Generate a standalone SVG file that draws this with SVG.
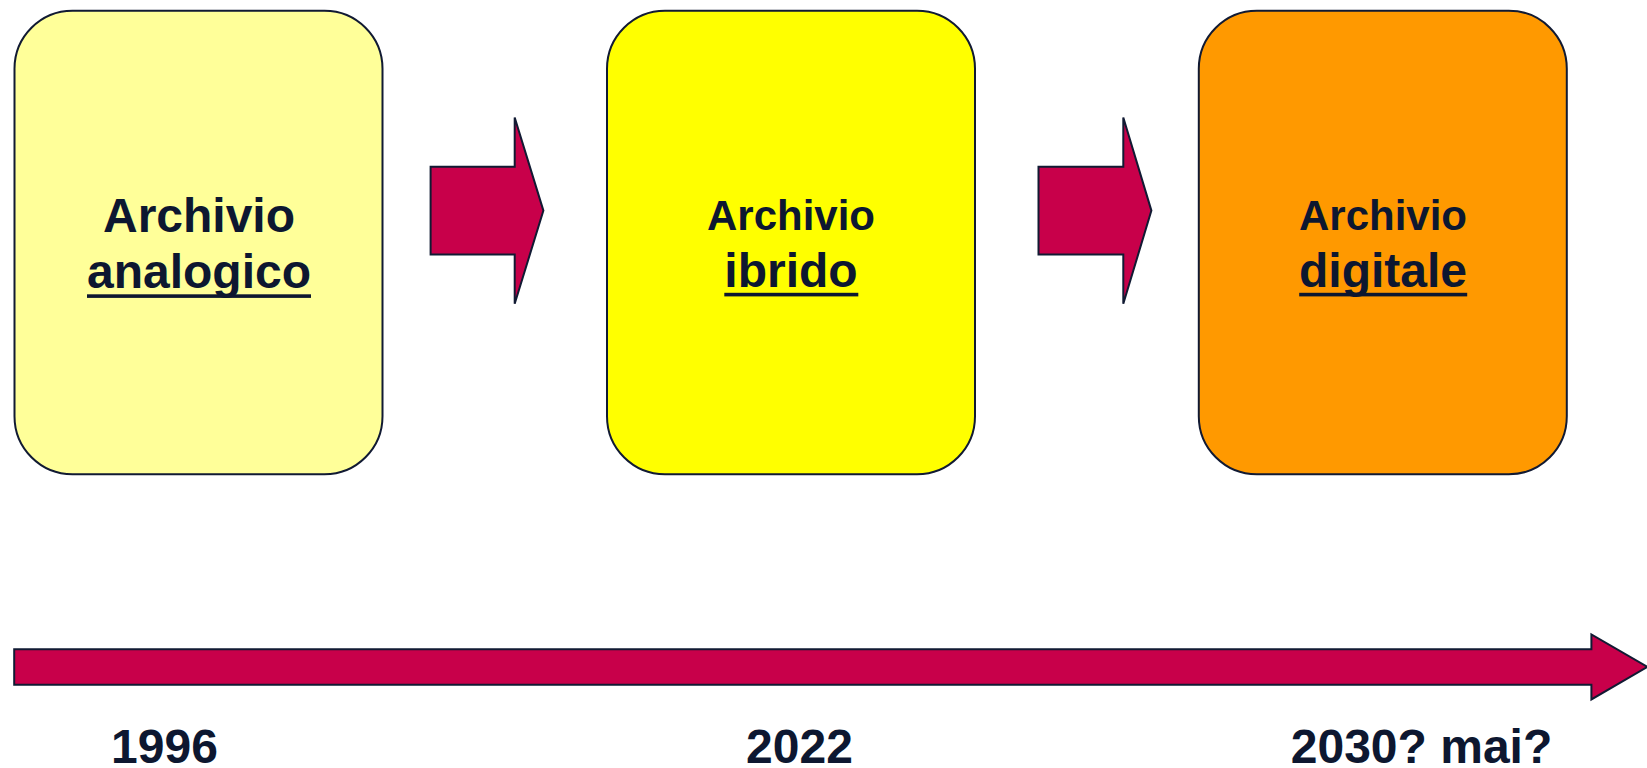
<svg xmlns="http://www.w3.org/2000/svg" width="1647" height="768" viewBox="0 0 1647 768">
<style>
.box{stroke:#111a33;stroke-width:2}
.arr{fill:#c8004a;stroke:#111a33;stroke-width:2;stroke-linejoin:miter}
.t{font-family:"Liberation Sans",Arial,sans-serif;font-weight:bold;fill:#0d1730;text-anchor:middle}
.ul{fill:#0d1730}
</style>
<rect width="1647" height="768" fill="#ffffff"/>
<g id="node-analogico">
<rect class="box" x="14.5" y="10.7" width="368" height="463.6" rx="58" ry="58" fill="#ffff99"/>
<text class="t" x="199" y="231.5" font-size="48">Archivio</text>
<text class="t" x="199" y="288" font-size="48">analogico</text>
<rect class="ul" x="87" y="294.3" width="224" height="3.6"/>
</g>
<g id="node-ibrido">
<rect class="box" x="607" y="10.7" width="368" height="463.6" rx="58" ry="58" fill="#ffff00"/>
<text class="t" x="791" y="230" font-size="42">Archivio</text>
<text class="t" x="791" y="286.7" font-size="48">ibrido</text>
<rect class="ul" x="724.3" y="292.8" width="134" height="3.6"/>
</g>
<g id="node-digitale">
<rect class="box" x="1198.8" y="10.7" width="368" height="463.6" rx="58" ry="58" fill="#ff9900"/>
<text class="t" x="1383" y="230" font-size="42">Archivio</text>
<text class="t" x="1383" y="286.7" font-size="48">digitale</text>
<rect class="ul" x="1299.2" y="292.8" width="168" height="3.6"/>
</g>
<g id="connectors">
<polygon class="arr" points="430.6,166.7 514.7,166.7 514.7,117.5 543.4,210.6 514.7,303.7 514.7,254.6 430.6,254.6"/>
<polygon class="arr" points="1038.5,166.7 1123.3,166.7 1123.3,117.5 1151.4,210.6 1123.3,303.7 1123.3,254.6 1038.5,254.6"/>
<polygon class="arr" points="14.2,649.2 1591.4,649.2 1591.4,634.4 1647.5,666.9 1591.4,699.4 1591.4,684.8 14.2,684.8"/>
</g>
<g id="years">
<text class="t" x="164.5" y="763" font-size="48">1996</text>
<text class="t" x="799.5" y="763" font-size="48">2022</text>
<text class="t" x="1421.5" y="763" font-size="48">2030? mai?</text>
</g>
</svg>
